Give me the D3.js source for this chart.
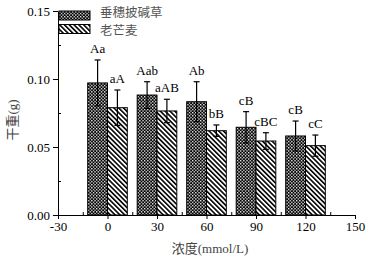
<!DOCTYPE html>
<html>
<head>
<meta charset="utf-8">
<script src="https://cdn.jsdelivr.net/npm/d3@7"></script>
<style>
  body { margin: 0; background: #fff; }
  svg { display: block; }
</style>
</head>
<body>
<div id="chart"></div>
<script>
// data
const concentrations = [0, 30, 60, 90, 120]
const seriesNames = ['垂穗披碱草', '老芒麦']
const elymusMean = [0.0971, 0.0882, 0.0833, 0.0645, 0.0581]
const elymusErr = [0.0169, 0.0098, 0.0147, 0.0115, 0.0110]
const elymusLetters = ['Aa', 'Aab', 'Ab', 'cB', 'cB']
const sibiricusMean = [0.0789, 0.0765, 0.0620, 0.0544, 0.0510]
const sibiricusErr = [0.0130, 0.0086, 0.0042, 0.0061, 0.0078]
const sibiricusLetters = ['aA', 'aAB', 'bB', 'cBC', 'cC']
const xTicks = [-30, 0, 30, 60, 90, 120, 150]
const yTicks = [0, 0.05, 0.10, 0.15]

const width = 368
const height = 262
const serif = '"Liberation Serif", "Times New Roman", serif'
const cjk = '"Noto Sans CJK SC", sans-serif'

const svg = d3.select('#chart').append('svg')
    .attr('width', width)
    .attr('height', height)

const x = d3.scaleLinear().domain([-30, 150]).range([58, 355])
const y = d3.scaleLinear().domain([0, 0.15]).range([215, 11])
const barW = 12 // in mmol/L units

// patterns
const defs = svg.append('defs')
const dots = defs.append('pattern')
    .attr('id', 'dots')
    .attr('patternUnits', 'userSpaceOnUse')
    .attr('width', 3.2).attr('height', 3.2)
dots.append('rect').attr('width', 3.2).attr('height', 3.2).attr('fill', '#000')
dots.append('rect').attr('x', 0).attr('y', 0).attr('width', 1.3).attr('height', 1.3).attr('fill', '#fff')
dots.append('rect').attr('x', 1.6).attr('y', 1.6).attr('width', 1.3).attr('height', 1.3).attr('fill', '#fff')

const hatch = defs.append('pattern')
    .attr('id', 'hatch')
    .attr('patternUnits', 'userSpaceOnUse')
    .attr('width', 3.4).attr('height', 3.4)
    .attr('patternTransform', 'rotate(-45)')
hatch.append('rect').attr('width', 3.4).attr('height', 3.4).attr('fill', '#fff')
hatch.append('rect').attr('width', 1.6).attr('height', 3.4).attr('fill', '#000')

const series = [
    { mean: elymusMean, err: elymusErr, letters: elymusLetters, fill: 'url(#dots)', off: -barW },
    { mean: sibiricusMean, err: sibiricusErr, letters: sibiricusLetters, fill: 'url(#hatch)', off: 0 }
]

series.forEach(s => {
    const rows = concentrations.map((c, i) => ({ c, m: s.mean[i], e: s.err[i], t: s.letters[i] }))
    const g = svg.append('g')
    g.selectAll('rect').data(rows).join('rect')
        .attr('x', d => x(d.c + s.off))
        .attr('y', d => y(d.m))
        .attr('width', x(barW) - x(0))
        .attr('height', d => y(0) - y(d.m))
        .attr('fill', s.fill)
        .attr('stroke', '#000')
        .attr('stroke-width', 1)
    const cx = d => x(d.c + s.off + barW / 2)
    g.selectAll('line.err').data(rows).join('line')
        .attr('class', 'err')
        .attr('x1', cx).attr('x2', cx)
        .attr('y1', d => y(d.m - d.e)).attr('y2', d => y(d.m + d.e))
        .attr('stroke', '#000').attr('stroke-width', 1.2)
    g.selectAll('line.capT').data(rows).join('line')
        .attr('class', 'capT')
        .attr('x1', d => cx(d) - 3).attr('x2', d => cx(d) + 3)
        .attr('y1', d => y(d.m + d.e)).attr('y2', d => y(d.m + d.e))
        .attr('stroke', '#000').attr('stroke-width', 1.2)
    g.selectAll('line.capB').data(rows).join('line')
        .attr('class', 'capB')
        .attr('x1', d => cx(d) - 3).attr('x2', d => cx(d) + 3)
        .attr('y1', d => y(d.m - d.e)).attr('y2', d => y(d.m - d.e))
        .attr('stroke', '#000').attr('stroke-width', 1.2)
    g.selectAll('text').data(rows).join('text')
        .attr('x', cx)
        .attr('y', d => y(d.m + d.e) - 7)
        .attr('text-anchor', 'middle')
        .attr('font-family', serif)
        .attr('font-size', 13)
        .text(d => d.t)
})

// axes
svg.append('g')
    .attr('transform', `translate(0, ${y(0)})`)
    .call(d3.axisBottom(x).tickValues(xTicks).tickSize(4).tickSizeOuter(0).tickPadding(3).tickFormat(d => String(d)))
svg.append('g')
    .attr('transform', `translate(0, ${y(0)})`)
    .call(d3.axisBottom(x).tickValues(d3.range(-15, 150, 30)).tickSize(-3).tickFormat(''))
    .call(g => g.select('.domain').remove())
svg.append('g')
    .attr('transform', `translate(${x(-30)}, 0)`)
    .call(d3.axisLeft(y).tickValues(yTicks).tickSize(5).tickSizeOuter(0).tickPadding(3).tickFormat(d3.format('.2f')))
svg.append('g')
    .attr('transform', `translate(${x(-30)}, 0)`)
    .call(d3.axisLeft(y).tickValues([0.025, 0.075, 0.125]).tickSize(-3).tickFormat(''))
    .call(g => g.select('.domain').remove())
svg.selectAll('.tick text')
    .attr('font-family', serif)
    .attr('font-size', 13)
    .attr('fill', '#000')
svg.selectAll('.domain, .tick line').attr('stroke', '#000').attr('stroke-width', 1)

// legend
const legend = svg.append('g')
seriesNames.forEach((name, i) => {
    legend.append('rect')
        .attr('x', 59).attr('y', 11 + i * 13.5)
        .attr('width', 31).attr('height', 9)
        .attr('fill', series[i].fill)
        .attr('stroke', '#000')
    legend.append('text')
        .attr('x', 100).attr('y', 17 + i * 18)
        .attr('font-family', cjk)
        .attr('font-size', 12.5)
        .attr('fill', '#555')
        .text(name)
})

// axis titles
const xt = svg.append('text')
    .attr('x', 210).attr('y', 253)
    .attr('text-anchor', 'middle')
    .attr('fill', '#444')
    .attr('font-size', 13)
xt.append('tspan').attr('font-family', cjk).text('浓度')
xt.append('tspan').attr('font-family', serif).text('(mmol/L)')

const yt = svg.append('text')
    .attr('transform', 'translate(17, 120) rotate(-90)')
    .attr('text-anchor', 'middle')
    .attr('fill', '#444')
    .attr('font-size', 13)
yt.append('tspan').attr('font-family', cjk).text('干重')
yt.append('tspan').attr('font-family', serif).text('(g)')
</script>
</body>
</html>
